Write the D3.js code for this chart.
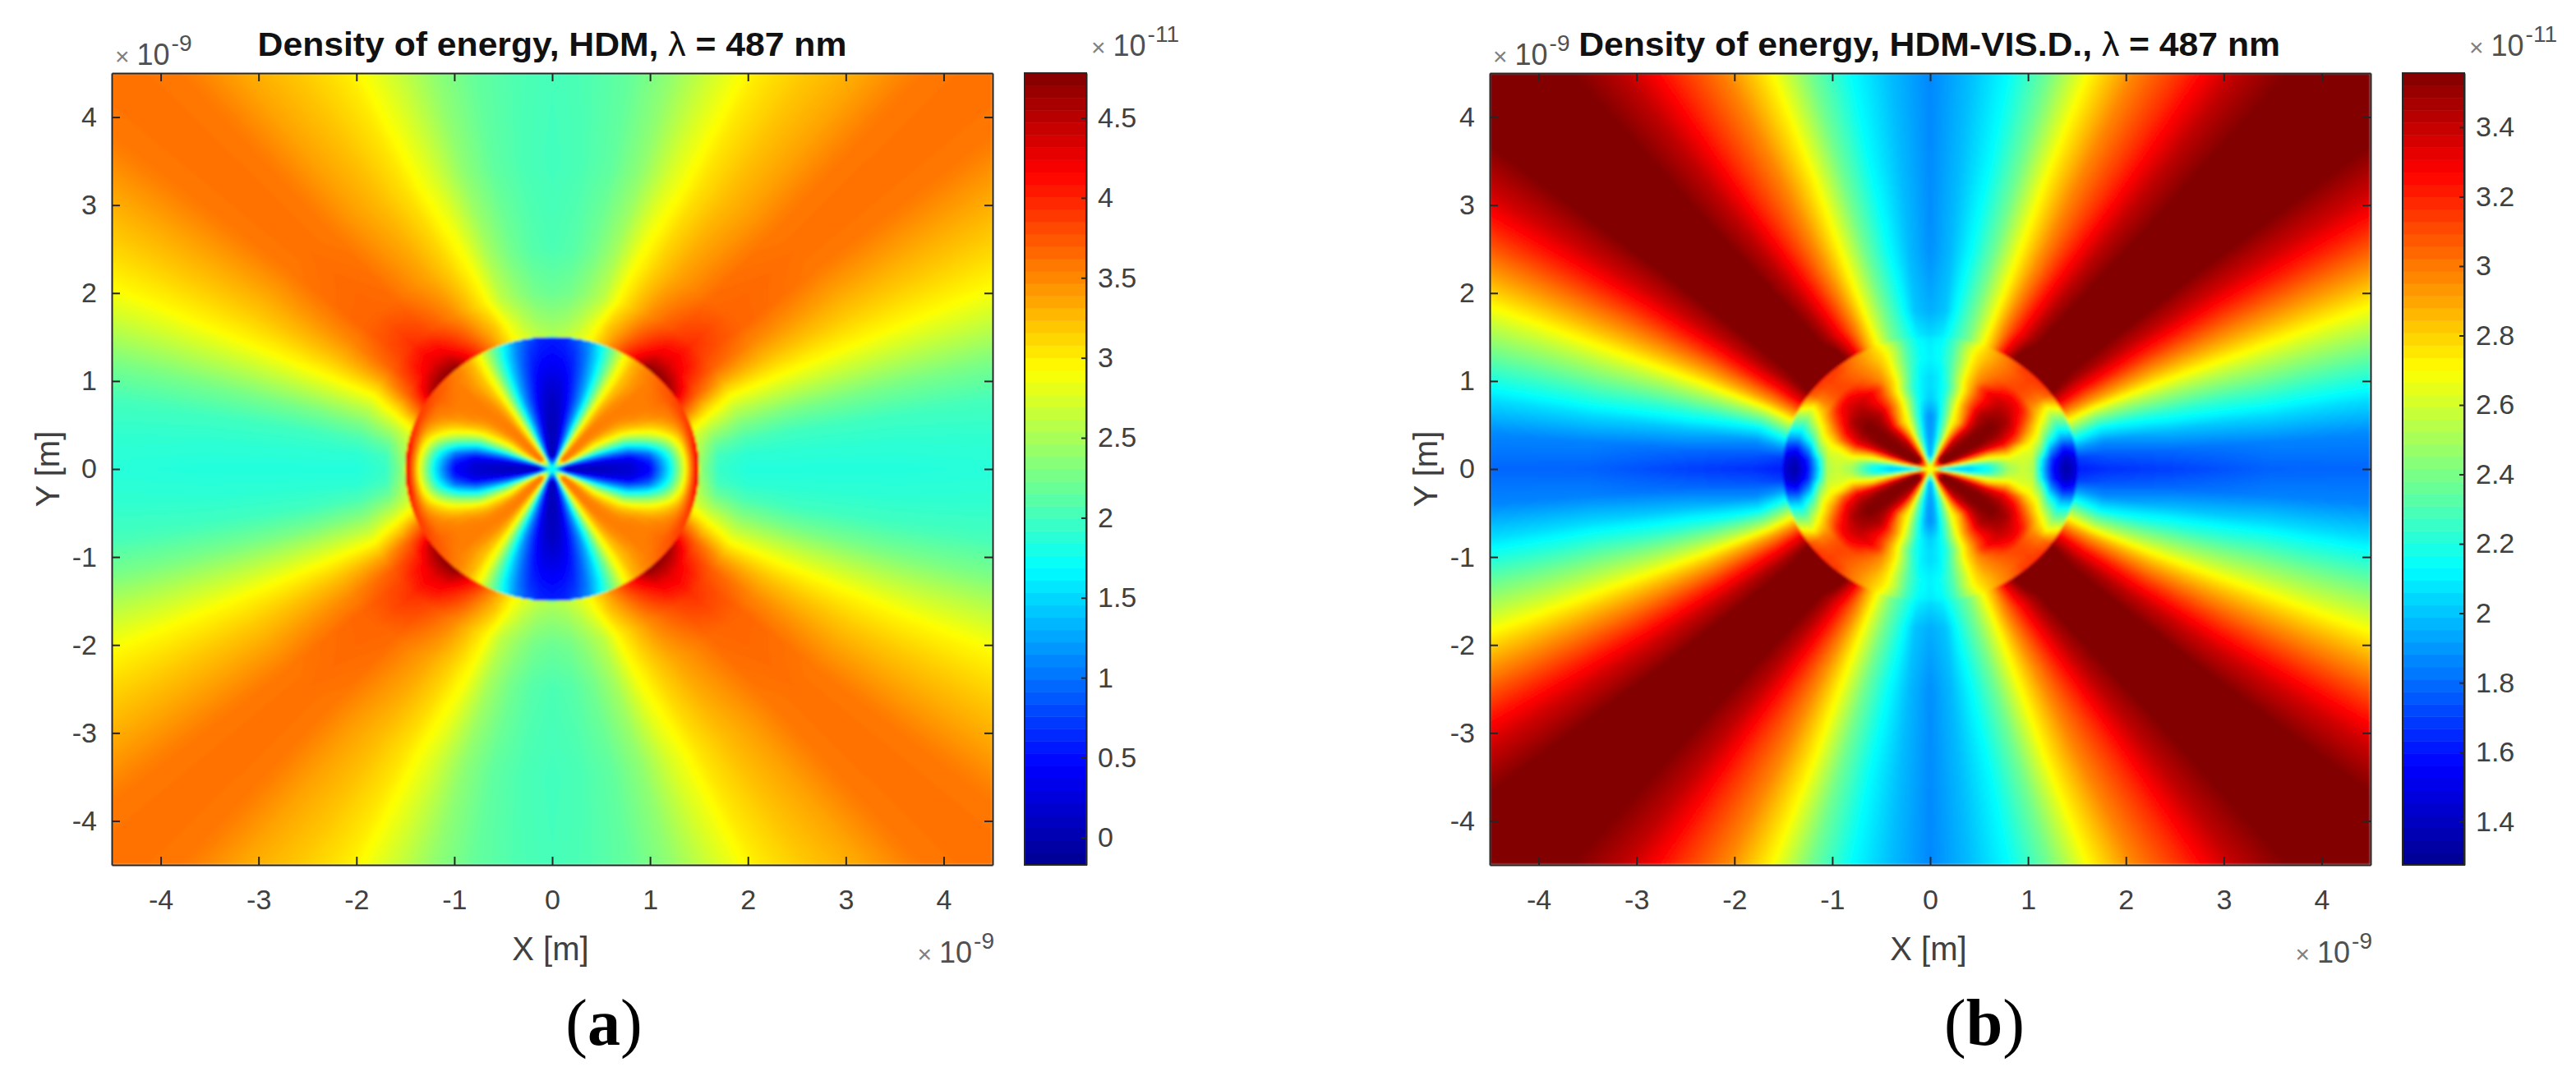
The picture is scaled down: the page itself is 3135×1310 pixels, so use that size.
<!DOCTYPE html>
<html>
<head>
<meta charset="utf-8">
<script src="https://d3js.org/d3.v7.min.js"></script>
<style>
  html, body { margin: 0; background: #fff; }
  svg { display: block; font-family: "Liberation Sans", Arial, sans-serif; }
  .tick text { fill: #404040; }
</style>
</head>
<body>
<svg id="chart" width="3135" height="1310"></svg>
<script>
// polar table, one quadrant: the field is mirrored in both axes. units of 1e-11
const anglesDeg = [0, 5, 10, 15, 20, 25, 30, 35, 40, 45, 50, 55, 60, 65, 70, 75, 80, 85, 90];

const radiiA = [0.03, 0.15, 0.5, 0.8, 1.0, 1.2, 1.35, 1.45, 1.495, 1.505, 1.7, 2, 2.5, 3.5, 6.4];
const energyA = [
  [1.7, 1.7, 1.7, 1.7, 1.7, 1.7, 1.7, 1.7, 1.7, 1.7, 1.7, 1.7, 1.7, 1.7, 1.7, 1.7, 1.7, 1.7, 1.7],
  [0.1, 0.15, 0.3, 0.8, 1.5, 2.5, 3.1, 3.5, 3.6, 3.6, 3.5, 3.2, 2.6, 1.7, 1.0, 0.5, 0.2, 0.1, 0.05],
  [0.1, 0.15, 0.4, 0.9, 1.6, 2.3, 2.8, 3.15, 3.45, 3.55, 3.55, 3.2, 2.7, 1.9, 1.2, 0.7, 0.3, 0.1, 0.05],
  [0.2, 0.25, 0.5, 1.1, 1.8, 2.45, 3.0, 3.3, 3.5, 3.55, 3.5, 3.25, 2.7, 1.9, 1.2, 0.75, 0.4, 0.2, 0.1],
  [0.45, 0.6, 1.0, 1.7, 2.4, 2.95, 3.3, 3.5, 3.55, 3.55, 3.45, 3.2, 2.75, 2.0, 1.3, 0.85, 0.5, 0.3, 0.25],
  [1.6, 1.7, 2.0, 2.5, 3.0, 3.3, 3.5, 3.55, 3.55, 3.55, 3.4, 3.2, 2.8, 2.1, 1.45, 0.95, 0.6, 0.45, 0.4],
  [2.8, 2.85, 3.0, 3.2, 3.4, 3.55, 3.6, 3.65, 3.6, 3.55, 3.45, 3.25, 2.85, 2.2, 1.55, 1.05, 0.7, 0.55, 0.5],
  [3.9, 3.9, 3.9, 3.85, 3.8, 3.8, 3.8, 3.75, 3.7, 3.6, 3.5, 3.3, 2.9, 2.3, 1.7, 1.15, 0.8, 0.6, 0.55],
  [4.4, 4.3, 4.2, 4.0, 3.95, 3.9, 3.85, 3.8, 3.7, 3.62, 3.5, 3.3, 2.9, 2.3, 1.7, 1.2, 0.85, 0.65, 0.6],
  [2.4, 2.5, 2.6, 2.75, 3.1, 3.6, 4.0, 4.5, 4.7, 4.75, 4.7, 4.3, 3.95, 3.6, 3.25, 2.95, 2.75, 2.6, 2.55],
  [1.95, 2.0, 2.2, 2.5, 2.85, 3.25, 3.7, 3.95, 4.2, 4.3, 4.25, 4.0, 3.75, 3.45, 3.2, 2.85, 2.6, 2.45, 2.4],
  [1.85, 1.9, 2.05, 2.3, 2.6, 2.95, 3.35, 3.7, 3.85, 3.95, 3.85, 3.7, 3.5, 3.25, 2.98, 2.6, 2.4, 2.25, 2.2],
  [1.85, 1.9, 2.0, 2.25, 2.6, 2.95, 3.25, 3.5, 3.68, 3.68, 3.65, 3.5, 3.35, 3.15, 2.9, 2.5, 2.25, 2.1, 2.05],
  [1.85, 1.9, 2.0, 2.25, 2.6, 2.95, 3.18, 3.38, 3.58, 3.62, 3.58, 3.4, 3.25, 3.05, 2.75, 2.38, 2.15, 2.05, 2.0],
  [1.9, 1.95, 2.05, 2.3, 2.65, 2.95, 3.15, 3.35, 3.58, 3.62, 3.58, 3.32, 3.15, 2.98, 2.65, 2.4, 2.2, 2.1, 2.05]
];

const radiiB = [0.03, 0.15, 0.4, 0.6, 0.8, 0.95, 1.05, 1.15, 1.25, 1.38, 1.495, 1.51, 1.8, 2.5, 3.5, 6.4];
const energyB = [
  [2.7, 2.7, 2.7, 2.7, 2.7, 2.7, 2.7, 2.7, 2.7, 2.7, 2.7, 2.7, 2.7, 2.7, 2.7, 2.7, 2.7, 2.7, 2.7],
  [2.03, 2.2, 2.7, 3.1, 3.4, 3.55, 3.55, 3.55, 3.55, 3.55, 3.5, 3.35, 3.1, 2.85, 2.55, 2.3, 2.12, 2.0, 1.95],
  [2.03, 2.1, 2.55, 3.0, 3.3, 3.5, 3.55, 3.55, 3.55, 3.5, 3.45, 3.3, 3.05, 2.8, 2.5, 2.3, 2.1, 1.95, 1.9],
  [2.15, 2.25, 2.6, 2.85, 3.25, 3.45, 3.55, 3.55, 3.55, 3.5, 3.35, 3.15, 2.9, 2.75, 2.62, 2.35, 2.15, 1.95, 1.88],
  [2.48, 2.55, 2.7, 2.95, 3.25, 3.4, 3.5, 3.55, 3.55, 3.5, 3.45, 3.3, 3.1, 2.9, 2.68, 2.45, 2.2, 2.08, 2.02],
  [2.58, 2.6, 2.62, 2.75, 3.05, 3.25, 3.38, 3.47, 3.47, 3.45, 3.35, 3.25, 3.1, 2.9, 2.68, 2.42, 2.2, 2.1, 2.05],
  [2.52, 2.55, 2.62, 2.7, 2.85, 3.05, 3.22, 3.32, 3.38, 3.38, 3.35, 3.28, 3.15, 2.92, 2.75, 2.5, 2.25, 2.1, 2.05],
  [2.0, 2.08, 2.35, 2.55, 2.72, 2.85, 3.05, 3.22, 3.28, 3.28, 3.22, 3.12, 3.02, 2.92, 2.75, 2.52, 2.28, 2.12, 2.08],
  [1.58, 1.65, 1.9, 2.2, 2.45, 2.68, 2.85, 2.98, 3.08, 3.12, 3.1, 3.05, 2.98, 2.9, 2.75, 2.52, 2.3, 2.15, 2.1],
  [1.33, 1.4, 1.62, 1.95, 2.2, 2.45, 2.68, 2.98, 3.08, 3.12, 3.08, 3.02, 2.95, 2.85, 2.75, 2.55, 2.3, 2.15, 2.1],
  [1.45, 1.5, 1.7, 2.0, 2.3, 2.55, 2.85, 3.1, 3.15, 3.15, 3.15, 3.05, 2.95, 2.85, 2.7, 2.5, 2.28, 2.12, 2.08],
  [1.62, 1.7, 1.95, 2.25, 2.6, 2.95, 3.3, 3.55, 3.65, 3.7, 3.7, 3.6, 3.3, 2.9, 2.65, 2.4, 2.25, 2.1, 2.05],
  [1.66, 1.75, 1.88, 2.12, 2.48, 2.9, 3.22, 3.48, 3.62, 3.7, 3.62, 3.46, 3.22, 2.95, 2.65, 2.4, 2.2, 2.0, 1.95],
  [1.7, 1.8, 1.98, 2.22, 2.52, 2.85, 3.15, 3.42, 3.6, 3.7, 3.6, 3.44, 3.2, 2.95, 2.68, 2.38, 2.15, 1.98, 1.88],
  [1.78, 1.85, 2.05, 2.3, 2.56, 2.85, 3.12, 3.38, 3.58, 3.68, 3.58, 3.42, 3.18, 2.98, 2.72, 2.38, 2.13, 1.98, 1.87],
  [1.8, 1.88, 2.08, 2.33, 2.58, 2.85, 3.12, 3.38, 3.58, 3.68, 3.58, 3.42, 3.18, 2.98, 2.72, 2.38, 2.13, 1.98, 1.85]
];

const axisTicks = [-4, -3, -2, -1, 0, 1, 2, 3, 4];
const colorTicksA = [0, 0.5, 1, 1.5, 2, 2.5, 3, 3.5, 4, 4.5];
const colorTicksB = [1.4, 1.6, 1.8, 2, 2.2, 2.4, 2.6, 2.8, 3, 3.2, 3.4];
const colorDomainA = [-0.17, 4.78];
const colorDomainB = [1.275, 3.556];
const extent = [-4.5, 4.5];

const jetStops = [0, 0.125, 0.375, 0.625, 0.875, 1];
const jetColors = ["#00008f", "#0000ff", "#00ffff", "#ffff00", "#ff0000", "#800000"];
const jet = d3.scaleLinear().domain(jetStops).range(jetColors).clamp(true);
const barLevels = d3.range(64).map((i) => d3.rgb(jet((i + 0.5) / 64)));
const fieldLevels = d3.range(256).map((i) => d3.rgb(jet((i + 0.5) / 256)));

const svg = d3.select("#chart");
const top_ = 89, bottom_ = 1053;

const defs = svg.append("defs");
defs.append("filter")
  .attr("id", "soften")
  .attr("filterUnits", "userSpaceOnUse")
  .attr("x", 0).attr("y", 0).attr("width", 3135).attr("height", 1310)
  .append("feGaussianBlur")
  .attr("stdDeviation", 1.8)
  .attr("edgeMode", "duplicate");

// shade the polar table like surf with shading interp
function drawField(g, x, y, radii, values, colorDomain, clipId) {
  const step = 2;
  const w = Math.round((x.range()[1] - x.range()[0]) / step);
  const h = Math.round((y.range()[0] - y.range()[1]) / step);
  const canvas = document.createElement("canvas");
  canvas.width = w;
  canvas.height = h;
  const ctx = canvas.getContext("2d");
  const img = ctx.createImageData(w, h);
  const norm = d3.scaleLinear().domain(colorDomain).range([0, 255.999]).clamp(true);
  const rIndex = d3.scaleLinear().domain(radii).range(d3.range(radii.length));
  const aIndex = d3.scaleLinear().domain(anglesDeg).range(d3.range(anglesDeg.length));
  for (let j = 0; j < h; j++) {
    for (let i = 0; i < w; i++) {
      const dx = Math.abs(x.invert(x.range()[0] + (i + 0.5) * step));
      const dy = Math.abs(y.invert(y.range()[1] + (j + 0.5) * step));
      const r = Math.max(Math.hypot(dx, dy), radii[0]);
      const a = (Math.atan2(dy, dx) * 180) / Math.PI;
      const ri = Math.min(rIndex(r), radii.length - 1.001);
      const ai = Math.min(aIndex(a), anglesDeg.length - 1.001);
      const r0 = Math.floor(ri), a0 = Math.floor(ai);
      const fr = ri - r0, fa = ai - a0;
      const v =
        values[r0][a0] * (1 - fr) * (1 - fa) +
        values[r0][a0 + 1] * (1 - fr) * fa +
        values[r0 + 1][a0] * fr * (1 - fa) +
        values[r0 + 1][a0 + 1] * fr * fa;
      const c = fieldLevels[Math.floor(norm(v))];
      const k = (j * w + i) * 4;
      img.data[k] = c.r;
      img.data[k + 1] = c.g;
      img.data[k + 2] = c.b;
      img.data[k + 3] = 255;
    }
  }
  ctx.putImageData(img, 0, 0);
  defs.append("clipPath")
    .attr("id", clipId)
    .append("rect")
    .attr("x", x.range()[0])
    .attr("y", y.range()[1])
    .attr("width", x.range()[1] - x.range()[0])
    .attr("height", y.range()[0] - y.range()[1]);
  g.append("g")
    .attr("clip-path", `url(#${clipId})`)
    .append("image")
    .attr("x", x.range()[0])
    .attr("y", y.range()[1])
    .attr("width", x.range()[1] - x.range()[0])
    .attr("height", y.range()[0] - y.range()[1])
    .attr("preserveAspectRatio", "none")
    .attr("filter", "url(#soften)")
    .attr("href", canvas.toDataURL());
}

// "x10^n" multiplier that matlab puts next to the axes
function addExponent(g, xPos, yPos, power, anchor) {
  const t = g.append("text")
    .attr("x", xPos)
    .attr("y", yPos)
    .attr("text-anchor", anchor)
    .attr("fill", "#505050")
    .attr("font-size", 36);
  t.append("tspan").attr("font-size", 30).attr("fill", "#808080").text("\u00d7");
  t.append("tspan").attr("dx", 9).text("10");
  t.append("tspan").attr("font-size", 28).attr("dx", 2).attr("dy", -17).text(power);
}

function styleAxis(sel) {
  sel.selectAll("path").attr("stroke", "#262626").attr("stroke-width", 2);
  sel.selectAll("line").attr("stroke", "#262626").attr("stroke-width", 2);
  sel.selectAll("text").attr("font-size", 34).attr("font-family", "Liberation Sans");
}

function drawPanel(p) {
  const g = svg.append("g");
  const x = d3.scaleLinear().domain(extent).range([p.left, p.left + 1072]);
  const y = d3.scaleLinear().domain(extent).range([bottom_, top_]);

  drawField(g, x, y, p.radii, p.values, p.colorDomain, "clip-" + p.label);

  g.append("g")
    .attr("transform", `translate(0,${bottom_})`)
    .call(d3.axisBottom(x).tickValues(axisTicks).tickSizeInner(-10).tickSizeOuter(0).tickPadding(30).tickFormat((d) => d))
    .call(styleAxis);
  g.append("g")
    .attr("transform", `translate(0,${top_})`)
    .call(d3.axisTop(x).tickValues(axisTicks).tickSizeInner(-10).tickSizeOuter(0).tickFormat(""))
    .call(styleAxis);
  g.append("g")
    .attr("transform", `translate(${p.left},0)`)
    .call(d3.axisLeft(y).tickValues(axisTicks).tickSizeInner(-10).tickSizeOuter(0).tickPadding(18).tickFormat((d) => d))
    .call(styleAxis);
  g.append("g")
    .attr("transform", `translate(${p.left + 1072},0)`)
    .call(d3.axisRight(y).tickValues(axisTicks).tickSizeInner(-10).tickSizeOuter(0).tickFormat(""))
    .call(styleAxis);

  const title = g.append("text")
    .attr("text-anchor", "middle")
    .attr("font-size", 40)
    .attr("font-weight", "bold")
    .attr("fill", "#111");
  title.append("tspan").text(p.title + ", ");
  title.append("tspan").attr("font-weight", "normal").text("\u03bb");
  title.append("tspan").text(" = 487 nm");
  // the published figure is stretched sideways, so fit the title to its width
  const stretch = p.titleWidth / title.node().getComputedTextLength();
  title.attr("transform", `translate(${p.titleX},68) scale(${stretch},1)`);

  g.append("text")
    .attr("x", p.left + 534)
    .attr("y", 1169)
    .attr("text-anchor", "middle")
    .attr("font-size", 40)
    .attr("fill", "#404040")
    .text("X [m]");
  g.append("text")
    .attr("transform", `translate(${p.left - 64},571) rotate(-90)`)
    .attr("text-anchor", "middle")
    .attr("font-size", 40)
    .attr("fill", "#404040")
    .text("Y [m]");

  addExponent(g, p.left + 4, 79, "-9", "start");
  addExponent(g, p.left + 1074, 1172, "-9", "end");
  addExponent(g, p.left + 1192, 68, "-11", "start");

  // colorbar
  const barLeft = p.left + 1111;
  const barWidth = 75;
  const c = d3.scaleLinear().domain(p.colorDomain).range([bottom_, top_]);
  const levelHeight = (bottom_ - top_) / barLevels.length;
  g.append("g")
    .selectAll("rect")
    .data(barLevels)
    .join("rect")
    .attr("x", barLeft)
    .attr("y", (d, i) => bottom_ - (i + 1) * levelHeight)
    .attr("width", barWidth)
    .attr("height", levelHeight + 0.5)
    .attr("fill", (d) => d);
  g.append("g")
    .attr("transform", `translate(${barLeft + barWidth},0)`)
    .call(d3.axisRight(c).tickValues(p.colorTicks).tickSizeInner(-6).tickSizeOuter(0).tickPadding(14).tickFormat((d) => d))
    .call(styleAxis);
  g.append("rect")
    .attr("x", barLeft)
    .attr("y", top_)
    .attr("width", barWidth)
    .attr("height", bottom_ - top_)
    .attr("fill", "none")
    .attr("stroke", "#262626")
    .attr("stroke-width", 2);

  const label = g.append("text")
    .attr("x", p.labelX)
    .attr("y", 1272)
    .attr("text-anchor", "middle")
    .attr("font-family", "Liberation Serif")
    .attr("font-size", 80)
    .attr("fill", "#000");
  label.append("tspan").text("(");
  label.append("tspan").attr("font-weight", "bold").text(p.label);
  label.append("tspan").text(")");
}

drawPanel({
  left: 136,
  radii: radiiA,
  values: energyA,
  colorDomain: colorDomainA,
  colorTicks: colorTicksA,
  title: "Density of energy, HDM",
  titleX: 672,
  titleWidth: 717,
  label: "a",
  labelX: 735
});
drawPanel({
  left: 1813,
  radii: radiiB,
  values: energyB,
  colorDomain: colorDomainB,
  colorTicks: colorTicksB,
  title: "Density of energy, HDM-VIS.D.",
  titleX: 2348,
  titleWidth: 854,
  label: "b",
  labelX: 2415
});
</script>
</body>
</html>
